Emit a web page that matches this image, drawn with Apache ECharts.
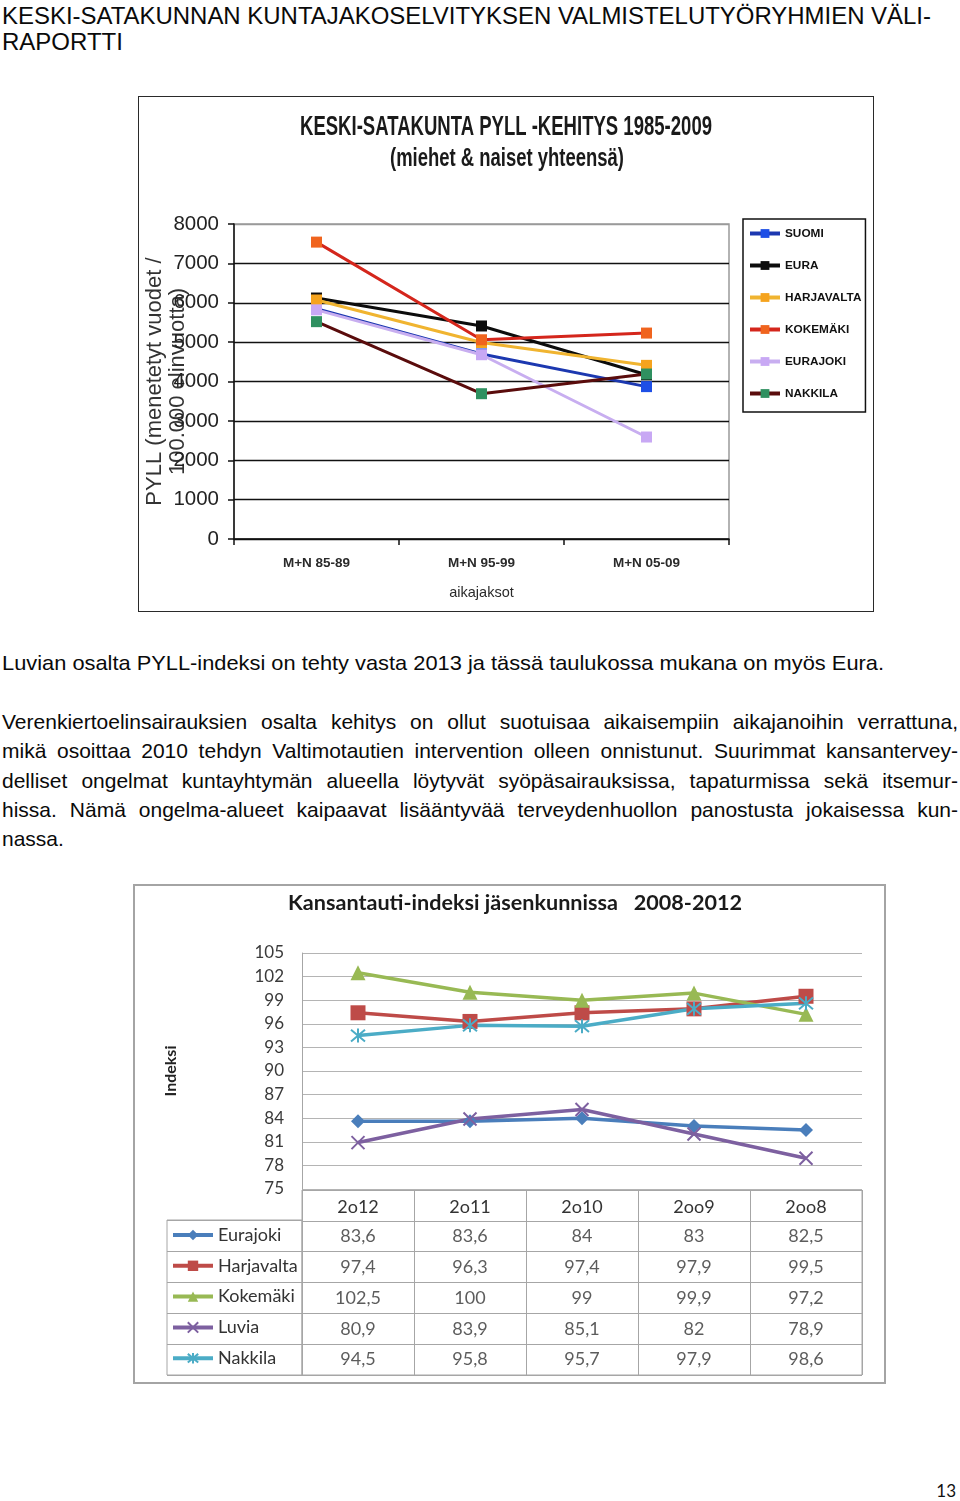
<!DOCTYPE html>
<html><head><meta charset="utf-8">
<script src="https://cdn.jsdelivr.net/npm/echarts/dist/echarts.min.js"></script>
<style>
html,body{margin:0;padding:0;background:#fff;}
body{width:960px;height:1501px;overflow:hidden;position:relative;font-family:"Liberation Sans",Arial,sans-serif;color:#0a0a0a;}
.ln{position:absolute;left:2px;white-space:nowrap;display:inline-block;transform-origin:0 0;}
.hd{font-size:24px;line-height:26px;}
.pp{font-size:21px;line-height:29.3px;}
#c1{position:absolute;left:138px;top:96px;width:736px;height:516px;}
#f1{position:absolute;left:138px;top:96px;width:736px;height:516px;box-sizing:border-box;border:1.5px solid #2a2a2a;pointer-events:none;}
#c2{position:absolute;left:133px;top:884px;width:753px;height:500px;}
#f2{position:absolute;left:133px;top:884px;width:753px;height:500px;box-sizing:border-box;border:2px solid #a4a4a4;pointer-events:none;}
#pg{position:absolute;right:4px;top:1481px;font-family:Lato,sans-serif;font-size:17px;line-height:20.4px;color:#111;}
</style></head>
<body>
<span class="ln hd" id="h1" style="top:3.4px" data-w="929">KESKI-SATAKUNNAN KUNTAJAKOSELVITYKSEN VALMISTELUTYÖRYHMIEN VÄLI-</span>
<span class="ln hd" id="h2" style="top:29.4px">RAPORTTI</span>
<div id="c1"></div><div id="f1"></div>
<span class="ln pp" style="top:648px" data-w="882">Luvian osalta PYLL-indeksi on tehty vasta 2013 ja tässä taulukossa mukana on myös Eura.</span>
<span class="ln pp" style="top:707px" data-j="956">Verenkiertoelinsairauksien osalta kehitys on ollut suotuisaa aikaisempiin aikajanoihin verrattuna,</span>
<span class="ln pp" style="top:736.3px" data-j="956">mikä osoittaa 2010 tehdyn Valtimotautien intervention olleen onnistunut. Suurimmat kansantervey-</span>
<span class="ln pp" style="top:765.6px" data-j="956">delliset ongelmat kuntayhtymän alueella löytyvät syöpäsairauksissa, tapaturmissa sekä itsemur-</span>
<span class="ln pp" style="top:794.9px" data-j="956">hissa. Nämä ongelma-alueet kaipaavat lisääntyvää terveydenhuollon panostusta jokaisessa kun-</span>
<span class="ln pp" style="top:824.2px">nassa.</span>
<div id="c2"></div><div id="f2"></div>
<span id="pg">13</span>
<script>
// ---------- Chart 1 data: KESKI-SATAKUNTA PYLL -KEHITYS 1985-2009 ----------
const pyllPeriods = ['M+N 85-89', 'M+N 95-99', 'M+N 05-09'];
const pyllNames = ['SUOMI', 'EURA', 'HARJAVALTA', 'KOKEMÄKI', 'EURAJOKI', 'NAKKILA'];
const pyllSuomi = [5850, 4700, 3870];
const pyllEura = [6120, 5410, 4170];
const pyllHarjavalta = [6070, 4990, 4410];
const pyllKokemaki = [7540, 5060, 5230];
const pyllEurajoki = [5820, 4680, 2590];
const pyllNakkila = [5520, 3690, 4190];

// ---------- Chart 2 data: Kansantauti-indeksi 2008-2012 ----------
const ktYears = ['2o12', '2o11', '2o10', '2oo9', '2oo8'];
const ktNames = ['Eurajoki', 'Harjavalta', 'Kokemäki', 'Luvia', 'Nakkila'];
const ktEurajoki = [83.6, 83.6, 84, 83, 82.5];
const ktHarjavalta = [97.4, 96.3, 97.4, 97.9, 99.5];
const ktKokemaki = [102.5, 100, 99, 99.9, 97.2];
const ktLuvia = [80.9, 83.9, 85.1, 82, 78.9];
const ktNakkila = [94.5, 95.8, 95.7, 97.9, 98.6];

// ---------- text line fitting ----------
document.querySelectorAll('.ln').forEach(el => {
  const w = el.getBoundingClientRect().width;
  if (el.dataset.j) {
    const t = +el.dataset.j, n = (el.textContent.match(/ /g) || []).length;
    if (w <= t) el.style.wordSpacing = ((t - w) / n) + 'px';
    else el.style.transform = 'scaleX(' + (t / w) + ')';
  } else if (el.dataset.w) {
    el.style.transform = 'scaleX(' + (+el.dataset.w / w) + ')';
  }
});

const ctx = document.createElement('canvas').getContext('2d');
function hasFont(f) {
  ctx.font = '20px monospace';
  const a = ctx.measureText('HARJAVALTA 8000 mi').width;
  ctx.font = '20px "' + f + '", monospace';
  return Math.abs(ctx.measureText('HARJAVALTA 8000 mi').width - a) > 0.5;
}
function textW(font, s) { ctx.font = font; return ctx.measureText(s).width; }
const NARROW = hasFont('Liberation Sans Narrow');
const NF = NARROW ? 'Liberation Sans Narrow' : 'Liberation Sans';
const nk = NARROW ? 1 : 0.82;

function fitText(text, font, cx, cy, targetW, fill) {
  return {
    type: 'text', x: cx, y: cy, scaleX: targetW / textW(font, text), silent: true,
    style: { text: text, font: font, fill: fill, textAlign: 'center', textVerticalAlign: 'middle', align: 'center', verticalAlign: 'middle' }
  };
}

// ---------- Chart 1 ----------
const pyllLine = ['#1c38b0', '#0c0c0c', '#f0b430', '#d4261c', '#c8aef0', '#5a0c0c'];
const pyllMark = ['#1e4fe6', '#0c0c0c', '#f5a31e', '#f0641e', '#c8a8f4', '#2f9060'];
const pyllData = [pyllSuomi, pyllEura, pyllHarjavalta, pyllKokemaki, pyllEurajoki, pyllNakkila];
const t1f = 'bold 28px "' + NF + '"', t2f = 'bold 26px "' + NF + '"';
const splitCols = ['#111', '#111', '#111', '#111', '#111', '#111', '#111', '#111', '#9a9a9a'];

const chart1 = echarts.init(document.getElementById('c1'));
chart1.setOption({
  animation: false,
  graphic: [
    fitText('KESKI-SATAKUNTA PYLL -KEHITYS 1985-2009', t1f, 368, 31, 412, '#1a1a1a'),
    fitText('(miehet & naiset yhteensä)', t2f, 369, 63, 234, '#1a1a1a')
  ],
  grid: { left: 96, top: 128, width: 495, height: 315, show: true, borderColor: '#9a9a9a', borderWidth: 1.5, outerBoundsMode: 'none' },
  xAxis: {
    type: 'category', data: pyllPeriods, boundaryGap: true,
    axisLine: { lineStyle: { color: '#111', width: 1.5 } },
    axisTick: { show: true, length: 6, lineStyle: { color: '#111', width: 1.5 } },
    axisLabel: { fontFamily: NF, fontWeight: 'bold', fontSize: NARROW ? 16 : 13.5, color: '#2a2a2a', margin: 17 },
    name: 'aikajaksot', nameLocation: 'middle', nameGap: 46, nameMoveOverlap: false,
    nameTextStyle: { fontFamily: NF, fontSize: NARROW ? 17 : 14.5, color: '#2a2a2a' }
  },
  yAxis: {
    type: 'value', min: 0, max: 8000, interval: 1000,
    axisLine: { show: true, lineStyle: { color: '#111', width: 1.5 } },
    axisTick: { show: true, length: 6, lineStyle: { color: '#111', width: 1.5 } },
    axisLabel: { fontFamily: NF, fontSize: 25 * nk, color: '#222', margin: 15, formatter: v => String(v) },
    splitLine: { show: true, lineStyle: { color: splitCols, width: 1.4 } },
    name: 'PYLL (menetetyt vuodet /\n100.000 elinvuotta)', nameLocation: 'middle', nameGap: 45, nameMoveOverlap: false,
    nameTextStyle: { fontFamily: 'Liberation Sans', fontSize: 22, lineHeight: 23, color: '#333' }
  },
  legend: {
    orient: 'vertical', left: 605, top: 123, padding: [7, 4, 11, 5],
    borderColor: '#111', borderWidth: 1.5, backgroundColor: '#fff',
    itemWidth: 30, itemHeight: 11, itemGap: 17, data: pyllNames, selectedMode: false,
    lineStyle: { width: 4 },
    textStyle: { fontFamily: NF, fontWeight: 'bold', fontSize: NARROW ? 14 : 11.8, lineHeight: 15, color: '#111' }
  },
  series: pyllNames.map((n, i) => ({
    name: n, type: 'line', data: pyllData[i], symbol: 'rect', symbolSize: 11,
    lineStyle: { color: pyllLine[i], width: 3 },
    itemStyle: { color: pyllMark[i], borderWidth: 0 },
    emphasis: { disabled: true }, silent: true
  }))
});

// ---------- Chart 2 ----------
const ktColors = ['#4a7ebb', '#be4b48', '#98b954', '#7d60a0', '#4bacc6'];
const ktData = [ktEurajoki, ktHarjavalta, ktKokemaki, ktLuvia, ktNakkila];
const ktSymbols = ['diamond', 'rect', 'triangle', 'path://M0,0L10,10M10,0L0,10', 'path://M0,0L10,10M10,0L0,10M5,-1L5,11'];
const ktSizes = [14, 15, 15, 13, 14];
const tableCells = [];
ktData.forEach((row, r) => row.forEach((v, c) => tableCells.push([c, r + 1, v])));
const gridGray = '#a6a6a6';
const FL = 'Lato';

const chart2 = echarts.init(document.getElementById('c2'));
chart2.setOption({
  animation: false,
  graphic: [fitText('Kansantauti-indeksi jäsenkunnissa   2008-2012', 'bold 21px Lato', 382, 19, 454, '#1a1a1a')],
  grid: [
    { left: 169, top: 69, width: 560, height: 236, outerBoundsMode: 'none' },
    { left: 169, top: 306, width: 560, height: 185, show: true, borderColor: gridGray, borderWidth: 1, outerBoundsMode: 'none' },
    { left: 34, top: 336, width: 135, height: 155, show: true, borderColor: gridGray, borderWidth: 1, outerBoundsMode: 'none' }
  ],
  xAxis: [
    { type: 'category', gridIndex: 0, data: ktYears, axisLine: { show: false }, axisTick: { show: false },
      axisLabel: { margin: 9, fontFamily: FL, fontSize: 18, color: '#333' } },
    { type: 'category', gridIndex: 1, data: ktYears, axisLine: { show: false }, axisTick: { show: false },
      axisLabel: { show: false }, splitLine: { show: true, lineStyle: { color: gridGray } } },
    { type: 'value', gridIndex: 2, show: false, min: 0, max: 1 }
  ],
  yAxis: [
    { type: 'value', gridIndex: 0, min: 75, max: 105, interval: 3,
      axisLine: { show: true, lineStyle: { color: gridGray } }, axisTick: { show: false },
      axisLabel: { margin: 18, fontFamily: FL, fontSize: 17, color: '#3a3a3a' },
      splitLine: { show: true, lineStyle: { color: '#b4b4b4' } },
      name: 'Indeksi', nameLocation: 'middle', nameGap: 123, nameMoveOverlap: false,
      nameTextStyle: { fontFamily: FL, fontWeight: 'bold', fontSize: 16, color: '#222' } },
    { type: 'category', gridIndex: 1, data: [''].concat(ktNames), inverse: true,
      axisLine: { show: false }, axisTick: { show: false }, axisLabel: { show: false },
      splitLine: { show: true, lineStyle: { color: gridGray } } },
    { type: 'category', gridIndex: 2, data: ktNames, inverse: true,
      axisLine: { show: false }, axisTick: { show: false }, axisLabel: { show: false },
      splitLine: { show: true, lineStyle: { color: gridGray } } }
  ],
  legend: {
    orient: 'vertical', left: 38, top: 340, padding: 0, itemWidth: 40, itemHeight: 13, itemGap: 8.8,
    data: ktNames, selectedMode: false, lineStyle: { width: 4 },
    textStyle: { fontFamily: FL, fontSize: 18, lineHeight: 22, color: '#333' }
  },
  series: ktNames.map((n, i) => ({
    name: n, type: 'line', xAxisIndex: 0, yAxisIndex: 0, data: ktData[i],
    symbol: ktSymbols[i], symbolSize: ktSizes[i],
    lineStyle: { color: ktColors[i], width: 3.5 },
    itemStyle: i >= 3 ? { color: ktColors[i], borderColor: ktColors[i], borderWidth: 2 } : { color: ktColors[i], borderWidth: 0 },
    emphasis: { disabled: true }, silent: true
  })).concat([{
    name: 'taulukko', type: 'scatter', xAxisIndex: 1, yAxisIndex: 1, data: tableCells,
    symbolSize: 1, itemStyle: { color: 'rgba(0,0,0,0)' }, silent: true,
    label: { show: true, position: 'inside', fontFamily: FL, fontSize: 18, color: '#333',
      formatter: p => String(p.data[2]).replace('.', ',') }
  }])
});
</script>
</body></html>
